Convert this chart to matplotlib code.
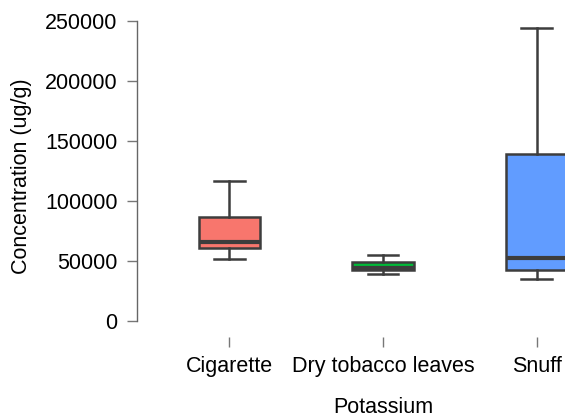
import matplotlib
matplotlib.use("Agg")
import matplotlib.pyplot as plt

plt.rcParams["font.family"] = ["Liberation Sans", "DejaVu Sans"]
plt.rcParams["font.size"] = 15.5

# five-number summaries per product type
categories = ["Cigarette", "Dry tobacco leaves", "Snuff"]
whisker_low = [51700, 38700, 34500]
q1 = [60800, 42500, 42500]
median = [65200, 44000, 52000]
q3 = [86700, 48600, 138900]
whisker_high = [116000, 54700, 243600]
colors = ["#F8766D", "#00BA38", "#619CFF"]

stats = []
for i, name in enumerate(categories):
    stats.append({
        "label": name,
        "whislo": whisker_low[i],
        "q1": q1[i],
        "med": median[i],
        "q3": q3[i],
        "whishi": whisker_high[i],
        "fliers": [],
    })

fig = plt.figure(figsize=(5.65, 4.17), dpi=100)
ax = fig.add_axes([0.2427, 0.1926, 0.8705, 0.7698])

edge = "#3d3d3d"
bp = ax.bxp(
    stats,
    positions=[1, 2, 3],
    widths=0.4,
    capwidths=0.2,
    patch_artist=True,
    showfliers=False,
    boxprops=dict(edgecolor=edge, linewidth=1.8),
    whiskerprops=dict(color=edge, linewidth=1.8),
    capprops=dict(color=edge, linewidth=1.8),
    medianprops=dict(color=edge, linewidth=3.0, solid_capstyle="butt"),
)
for patch, c in zip(bp["boxes"], colors):
    patch.set_facecolor(c)

ax.set_xlim(0.4, 3.6)
ax.set_ylim(-13333, 254167)
ax.set_yticks([0, 50000, 100000, 150000, 200000, 250000])
ax.set_yticklabels(["0", "50000", "100000", "150000", "200000", "250000"])
ax.set_xticks([1, 2, 3])
ax.set_xticklabels(categories)

for side in ["top", "right", "bottom"]:
    ax.spines[side].set_visible(False)
ax.spines["left"].set_bounds(0, 250000)
ax.spines["left"].set_color("#666666")
ax.spines["left"].set_linewidth(1.0)
ax.tick_params(axis="y", length=7.2, width=1.0, color="#777777", pad=7)
ax.tick_params(axis="x", length=7.2, width=1.0, color="#777777", pad=7)

ax.set_ylabel("Concentration (ug/g)", labelpad=9)
ax.set_xlabel("Potassium", labelpad=14)

fig.savefig("out.png", dpi=100)
